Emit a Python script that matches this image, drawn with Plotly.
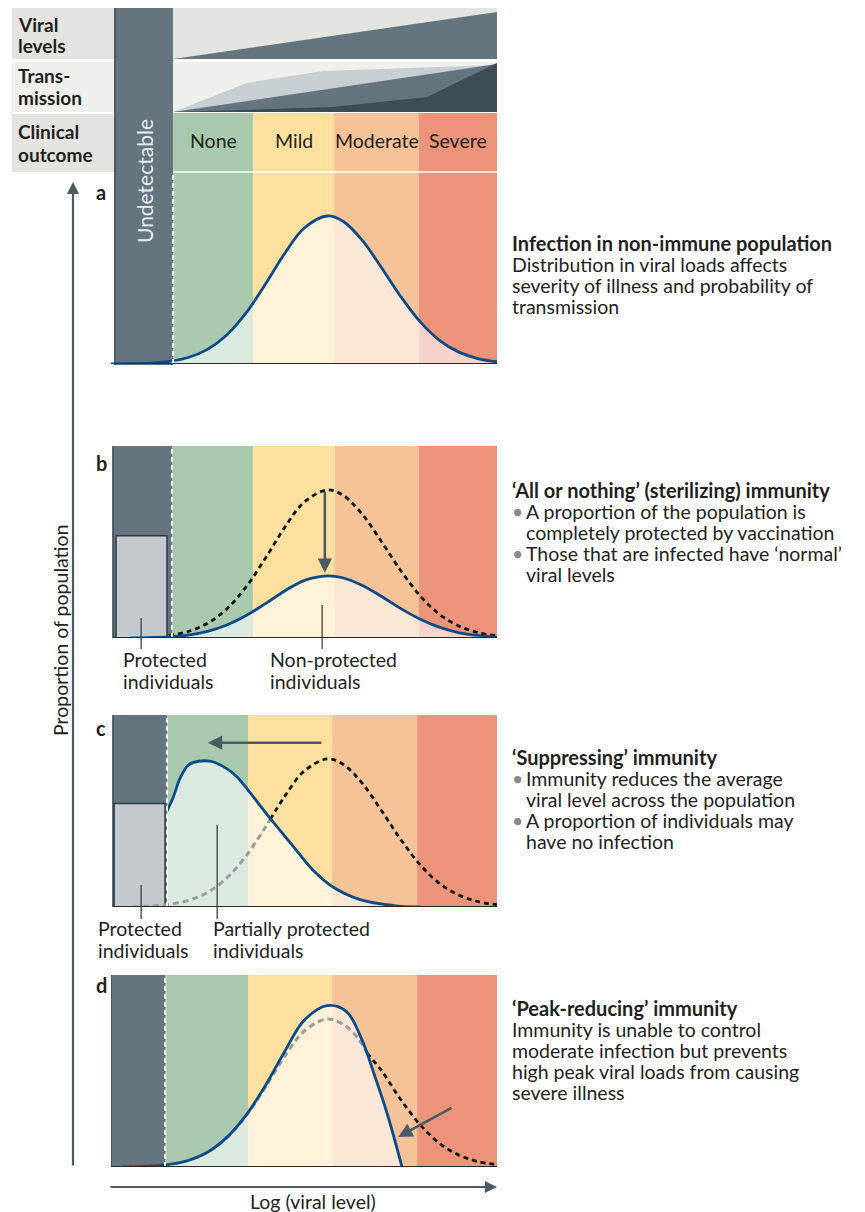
import plotly.graph_objects as go

W, H = 865, 1212

# ---------------- data ----------------
OUTCOMES = ["None", "Mild", "Moderate", "Severe"]
BAND_COLORS = ["#a8c9ae", "#fde0a0", "#f6c398", "#ec947a"]
DARK = "#647580"

# band edges (log viral level units): [undetectable start, threshold, none|mild, mild|moderate, moderate|severe, end]
EDGES_A = [0.10, 1.61, 3.68, 5.78, 7.98, 10.0]
EDGES_B = [0.05, 1.58, 3.68, 5.80, 7.98, 10.0]
EDGES_C = [0.05, 1.45, 3.55, 5.73, 7.93, 10.0]
EDGES_D = [0.00, 1.40, 3.55, 5.73, 7.93, 10.0]

# header schematic: viral levels / transmission
VIRAL_X = [1.61, 10.0, 10.0]
VIRAL_Y = [0.0, 0.92, 0.0]
TRANS_LIGHT_X = [1.61, 3.52, 5.49, 10.0, 10.0]
TRANS_LIGHT_Y = [0.0, 0.58, 0.82, 0.94, 0.0]
TRANS_MID_X = [1.61, 10.0, 10.0]
TRANS_MID_Y = [0.0, 0.96, 0.0]
TRANS_DARK_X = [1.61, 5.75, 8.19, 10.0, 10.0]
TRANS_DARK_Y = [0.0, 0.10, 0.30, 0.98, 0.0]

# non-immune distribution (proportion of population)
NORMAL_X = [0.0, 0.5, 1.0, 1.5, 2.0, 2.5, 3.0, 3.5, 4.0, 4.5, 5.0, 5.6, 6.0, 6.5, 7.0, 7.5, 8.0, 8.5, 9.0, 9.5, 10.0]
NORMAL_Y = [0.0005, 0.002, 0.006, 0.017, 0.044, 0.099, 0.196, 0.345, 0.539, 0.747, 0.917, 1.0, 0.966, 0.839, 0.654, 0.458, 0.288, 0.162, 0.082, 0.037, 0.015]

# b: all or nothing
B_PROTECTED = [0.13, 1.45, 0.69]   # x0, x1, height
B_SOLID_X = [0.5, 1.0, 1.5, 2.0, 2.5, 3.0, 3.5, 4.0, 4.5, 5.0, 5.6, 6.0, 6.5, 7.0, 7.5, 8.0, 8.5, 9.0, 9.5, 10.0]
B_SOLID_Y = [0.0, 0.003, 0.008, 0.02, 0.045, 0.088, 0.152, 0.232, 0.318, 0.388, 0.42, 0.407, 0.356, 0.282, 0.2, 0.128, 0.073, 0.037, 0.017, 0.006]

# c: suppressing
C_PROTECTED = [0.08, 1.40, 0.70]
C_GREY_X = [0.57, 1.0, 1.5, 2.0, 2.5, 3.0, 3.5, 4.0, 4.12]
C_GREY_Y = [0.0, 0.006, 0.017, 0.044, 0.099, 0.196, 0.345, 0.539, 0.59]
C_BLACK_X = [4.12, 4.5, 5.0, 5.6, 6.0, 6.5, 7.0, 7.5, 8.0, 8.5, 9.0, 9.5, 10.0]
C_BLACK_Y = [0.59, 0.747, 0.917, 1.0, 0.966, 0.839, 0.654, 0.458, 0.288, 0.162, 0.082, 0.037, 0.015]
C_BLUE_X = [1.45, 1.61, 1.79, 1.97, 2.12, 2.56, 3.0, 3.26, 3.55, 4.12, 4.72, 5.23, 5.75, 6.45, 7.31, 8.0]
C_BLUE_Y = [0.65, 0.74, 0.87, 0.95, 0.975, 0.985, 0.935, 0.88, 0.79, 0.60, 0.41, 0.25, 0.135, 0.05, 0.01, 0.0]

# d: peak reducing
D_GREY_X = [0.3, 1.0, 1.5, 2.0, 2.5, 3.0, 3.5, 4.0, 4.5, 5.0, 5.6, 6.0, 6.4, 6.63]
D_GREY_Y = [0.0, 0.006, 0.017, 0.044, 0.099, 0.196, 0.345, 0.539, 0.747, 0.917, 1.0, 0.966, 0.87, 0.77]
D_BLACK_X = [6.63, 7.0, 7.5, 8.0, 8.5, 9.0, 9.5, 10.0]
D_BLACK_Y = [0.77, 0.654, 0.458, 0.288, 0.162, 0.082, 0.037, 0.015]
D_BLUE_X = [0.3, 1.0, 1.5, 2.0, 2.5, 3.0, 3.5, 4.0, 4.5, 5.0, 5.6, 6.1, 6.5, 6.8, 7.15, 7.54]
D_BLUE_Y = [0.0, 0.006, 0.017, 0.044, 0.10, 0.20, 0.35, 0.55, 0.78, 0.99, 1.09, 1.05, 0.86, 0.64, 0.365, 0.0]

TEXT_A = ["Infection in non-immune population",
          "Distribution in viral loads affects",
          "severity of illness and probability of",
          "transmission"]
TEXT_B = ["‘All or nothing’ (sterilizing) immunity",
          ("•", "A proportion of the population is"),
          ("", "completely protected by vaccination"),
          ("•", "Those that are infected have ‘normal’"),
          ("", "viral levels")]
TEXT_C = ["‘Suppressing’ immunity",
          ("•", "Immunity reduces the average"),
          ("", "viral level across the population"),
          ("•", "A proportion of individuals may"),
          ("", "have no infection")]
TEXT_D = ["‘Peak-reducing’ immunity",
          "Immunity is unable to control",
          "moderate infection but prevents",
          "high peak viral loads from causing",
          "severe illness"]

# ---------------- helpers ----------------
FONT = "Lato"
TXT = "#231f20"
BLUE = "#0d4a88"
ARROW = "#4b5b66"
FS = 19.5      # body text size
FB = 20        # bold title size


def px(x):
    return x / W


def py(y):
    return 1 - y / H


XDOM = [px(111), px(497)]
fig = go.Figure()
shapes = []
ann = []

axes = {
    # name: (y-domain top px, bottom px, y-range)
    "1": (8, 59, [0, 1]),
    "2": (62, 112, [0, 1]),
    "3": (113, 364, [0, 1.696]),
    "4": (446, 638, [0, 1.297]),
    "5": (715, 907, [0, 1.297]),
    "6": (975, 1167, [0, 1.297]),
}
layout_axes = {}
for k, (t, b, yr) in axes.items():
    xn = "xaxis" if k == "1" else "xaxis" + k
    yn = "yaxis" if k == "1" else "yaxis" + k
    xid = "x" if k == "1" else "x" + k
    yid = "y" if k == "1" else "y" + k
    layout_axes[xn] = dict(domain=XDOM, range=[0, 10], visible=False, fixedrange=True, anchor=yid)
    layout_axes[yn] = dict(domain=[py(b), py(t)], range=yr, visible=False, fixedrange=True, anchor=xid)


def ref(k):
    return ("x", "y") if k == "1" else ("x" + k, "y" + k)


def poly(k, xs, ys, color):
    xr, yr = ref(k)
    fig.add_trace(go.Scatter(x=xs, y=ys, xaxis=xr, yaxis=yr, mode="lines", fill="toself",
                             fillcolor=color, line=dict(width=0), hoverinfo="skip", showlegend=False))


def curve(k, xs, ys, color, width=2.8, dash="solid", fill=False):
    xr, yr = ref(k)
    if fill:
        fig.add_trace(go.Scatter(x=xs, y=ys, xaxis=xr, yaxis=yr, mode="lines", fill="tozeroy",
                                 fillcolor="rgba(255,255,255,0.6)", line=dict(width=0, shape="spline"),
                                 hoverinfo="skip", showlegend=False))
    else:
        fig.add_trace(go.Scatter(x=xs, y=ys, xaxis=xr, yaxis=yr, mode="lines",
                                 line=dict(color=color, width=width, dash=dash, shape="spline"),
                                 hoverinfo="skip", showlegend=False))


def rect(k, x0, x1, y0, y1, color, line=None, layer="below"):
    xr, yr = ref(k)
    shapes.append(dict(type="rect", xref=xr, yref=yr, x0=x0, x1=x1, y0=y0, y1=y1,
                       fillcolor=color, line=line or dict(width=0), layer=layer))


def text(x, y, s, size=FS, bold=False, color=TXT, xanchor="left", angle=0):
    ann.append(dict(x=px(x), y=py(y), xref="paper", yref="paper", text=(f"<b>{s}</b>" if bold else s),
                    showarrow=False, xanchor=xanchor, yanchor="middle", textangle=angle,
                    font=dict(family=FONT, size=size, color=color)))


# ---------------- header ----------------
label_bg = [(8, 59, "#e3e4df"), (62, 112, "#efefeb"), (114, 172, "#e3e4df")]
for t, b, c in label_bg:
    shapes.append(dict(type="rect", xref="paper", yref="paper", x0=px(12), x1=px(116), y0=py(b), y1=py(t),
                       fillcolor=c, line=dict(width=0), layer="below"))
rect("1", EDGES_A[1], 10, 0, 1, "#e3e4df")
rect("2", EDGES_A[1], 10, 0, 1, "#efefeb")
poly("1", VIRAL_X, VIRAL_Y, DARK)
poly("2", TRANS_LIGHT_X, TRANS_LIGHT_Y, "#c8cfd3")
poly("2", TRANS_MID_X, TRANS_MID_Y, DARK)
poly("2", TRANS_DARK_X, TRANS_DARK_Y, "#3d4d58")

for lines, ys in [(["Viral", "levels"], [24, 45]), (["Trans-", "mission"], [76, 97]), (["Clinical", "outcome"], [132, 154])]:
    for s, y in zip(lines, ys):
        text(16, y, s, size=19, bold=True)

# tall undetectable column for panel a + header
shapes.append(dict(type="rect", xref="x3", yref="paper", x0=EDGES_A[0], x1=EDGES_A[1], y0=py(365), y1=py(8),
                   fillcolor=DARK, line=dict(width=0), layer="below"))
shapes.append(dict(type="line", xref="x3", yref="paper", x0=EDGES_A[0], x1=EDGES_A[0], y0=py(365), y1=py(8),
                   line=dict(color="#3f4b53", width=1.5), layer="above"))
ann.append(dict(x=(EDGES_A[0] + EDGES_A[1]) / 2, y=py(181), xref="x3", yref="paper", text="Undetectable",
                showarrow=False, textangle=-90, xanchor="center", yanchor="middle",
                font=dict(family=FONT, size=21, color="#e8ecee")))

# ---------------- panels ----------------
panels = [("3", EDGES_A, 1.696), ("4", EDGES_B, 1.297), ("5", EDGES_C, 1.297), ("6", EDGES_D, 1.297)]
for k, E, top in panels:
    xr, yr = ref(k)
    for i, c in enumerate(BAND_COLORS):
        rect(k, E[i + 1], E[i + 2], 0, top, c)
    if k != "3":
        rect(k, E[0], E[1], 0, top, DARK)
        shapes.append(dict(type="line", xref=xr, yref=yr, x0=E[0], x1=E[0], y0=0, y1=top,
                           line=dict(color="#3f4b53", width=1.5), layer="above"))
    dtop = 1.297 if k == "3" else top
    shapes.append(dict(type="line", xref=xr, yref=yr, x0=E[1], x1=E[1], y0=0, y1=dtop,
                       line=dict(color="white", width=2, dash="5px,3px"), layer="above"))
    shapes.append(dict(type="line", xref=xr, yref=yr, x0=E[0], x1=10, y0=0, y1=0,
                       line=dict(color="#2a2a2a", width=2), layer="above"))

# panel a header row 3 separator + labels
shapes.append(dict(type="line", xref="x3", yref="y3", x0=EDGES_A[1], x1=10, y0=1.297, y1=1.297,
                   line=dict(color="white", width=1.5), layer="above"))
for i, s in enumerate(OUTCOMES):
    ann.append(dict(x=(EDGES_A[i + 1] + EDGES_A[i + 2]) / 2, y=1.507, xref="x3", yref="y3", text=s,
                    showarrow=False, xanchor="center", yanchor="middle",
                    font=dict(family=FONT, size=FS, color=TXT)))

# a curves
curve("3", NORMAL_X[3:], NORMAL_Y[3:], None, fill=True)
curve("3", NORMAL_X, NORMAL_Y, BLUE)

# b
rect("4", B_PROTECTED[0], B_PROTECTED[1], 0, B_PROTECTED[2], "#c3c9cc", line=dict(color="#2f3a40", width=1.5))
curve("4", B_SOLID_X[2:], B_SOLID_Y[2:], None, fill=True)
curve("4", NORMAL_X[3:], NORMAL_Y[3:], "#111111", width=2.8, dash="5px,4px")
curve("4", B_SOLID_X, B_SOLID_Y, BLUE)

# c
rect("5", C_PROTECTED[0], C_PROTECTED[1], 0, C_PROTECTED[2], "#c3c9cc", line=dict(color="#2f3a40", width=1.5))
curve("5", C_BLUE_X, C_BLUE_Y, None, fill=True)
curve("5", C_GREY_X, C_GREY_Y, "#9c9c9c", width=3, dash="6px,4px")
curve("5", C_BLACK_X, C_BLACK_Y, "#111111", width=2.8, dash="5px,4px")
curve("5", C_BLUE_X, C_BLUE_Y, BLUE)

# d
curve("6", D_BLUE_X, D_BLUE_Y, None, fill=True)
curve("6", D_GREY_X, D_GREY_Y, "#9c9c9c", width=3, dash="6px,4px")
curve("6", D_BLACK_X, D_BLACK_Y, "#111111", width=2.8, dash="5px,4px")
curve("6", D_BLUE_X, D_BLUE_Y, BLUE)


def data_arrow(k, x, y, ax, ay):
    xr, yr = ref(k)
    ann.append(dict(x=x, y=y, ax=ax, ay=ay, xref=xr, yref=yr, axref=xr, ayref=yr, text="", showarrow=True,
                    arrowhead=2, arrowsize=1.1, arrowwidth=2.6, arrowcolor=ARROW, standoff=0))


data_arrow("4", 5.54, 0.44, 5.54, 1.0)
data_arrow("5", 2.51, 1.11, 5.49, 1.11)
data_arrow("6", 7.44, 0.203, 8.86, 0.405)

# leader lines
for k, xu, y0, y1 in [("4", 0.78, 618, 649), ("4", 5.47, 605, 649), ("5", 0.78, 885, 919), ("5", 2.75, 825, 919)]:
    xr, _ = ref(k)
    shapes.append(dict(type="line", xref=xr, yref="paper", x0=xu, x1=xu, y0=py(y0), y1=py(y1),
                       line=dict(color="#333333", width=1.2), layer="above"))

text(121, 659, "Protected")
text(121, 681, "individuals")
text(268, 659, "Non-protected")
text(268, 681, "individuals")
text(96, 928, "Protected")
text(96, 950, "individuals")
text(211, 928, "Partially protected")
text(211, 950, "individuals")

# panel letters
for s, y in [("a", 192), ("b", 463), ("c", 728), ("d", 985)]:
    text(94, y, s, size=20, bold=True)

# axes arrows
ann.append(dict(x=px(73), y=py(182), xref="paper", yref="paper", ax=0, ay=985, axref="pixel", ayref="pixel",
                text="", showarrow=True, arrowhead=2, arrowsize=1.1, arrowwidth=2.2, arrowcolor=ARROW, standoff=0))
ann.append(dict(x=px(497), y=py(1187), xref="paper", yref="paper", ax=-388, ay=0,
                text="", showarrow=True, arrowhead=2, arrowsize=1.1, arrowwidth=2.2, arrowcolor=ARROW, standoff=0))
text(313, 1201, "Log (viral level)", xanchor="center")
text(60, 630, "Proportion of population", xanchor="center", angle=-90)

# right-hand descriptions
LH = 21.2


def block(lines, y0):
    for i, ln in enumerate(lines):
        y = y0 + i * LH
        if i == 0:
            text(510, y, ln, size=FB, bold=True)
        elif isinstance(ln, tuple):
            b, s = ln
            if b:
                text(510, y, b, color="#8a8a8a")
            text(524, y, s)
        else:
            text(510, y, ln)


block(TEXT_A, 243)
block(TEXT_B, 490)
block(TEXT_C, 757)
block(TEXT_D, 1008)

fig.update_layout(width=W, height=H, margin=dict(l=0, r=0, t=0, b=0), paper_bgcolor="white",
                  plot_bgcolor="rgba(0,0,0,0)", showlegend=False, shapes=shapes, annotations=ann,
                  **layout_axes)
fig.write_html("out.html", config={"displayModeBar": False},
               post_script="document.body.style.margin='0';document.body.style.overflow='hidden';")
